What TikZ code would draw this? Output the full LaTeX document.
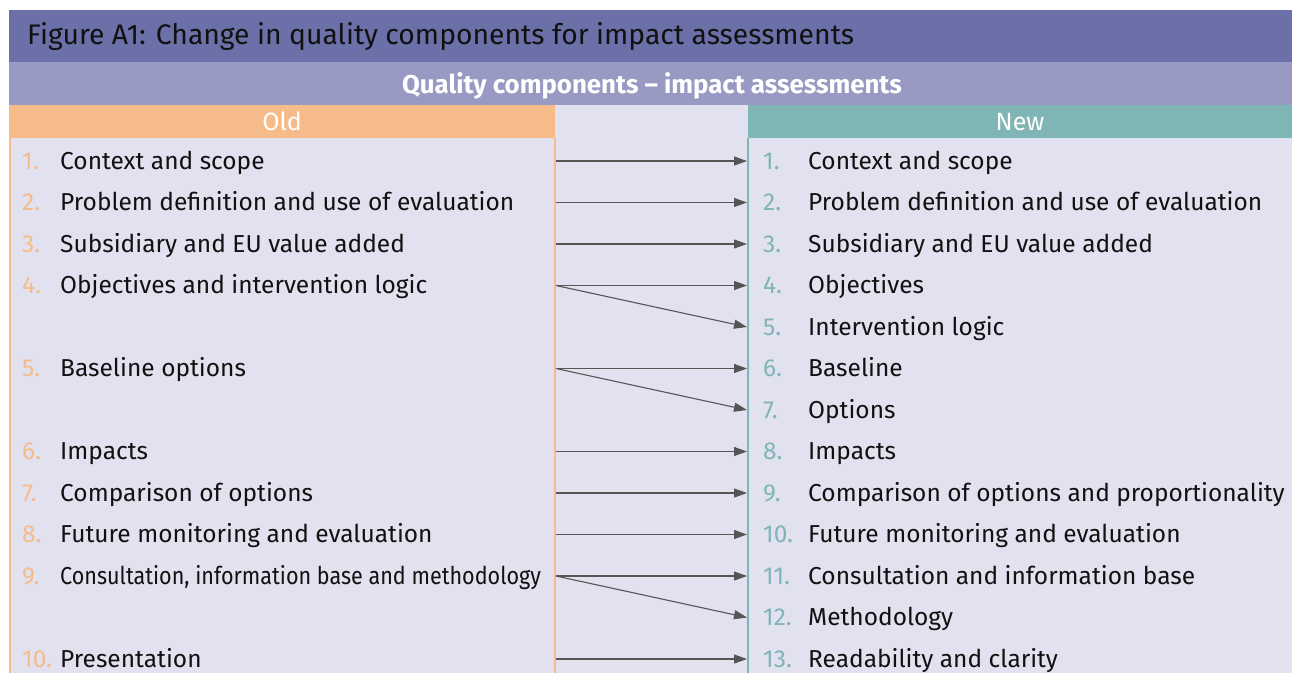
\documentclass[tikz,border=0pt]{standalone}
\usepackage{fontspec}
\setmainfont{Fira Sans}
\usetikzlibrary{arrows.meta}
\definecolor{titlebg}{HTML}{6B71A8}
\definecolor{subbg}{HTML}{999AC4}
\definecolor{oldc}{HTML}{F5BC8A}
\definecolor{newc}{HTML}{7FB5B4}
\definecolor{bodybg}{HTML}{E2E1F0}
\definecolor{arrc}{HTML}{555555}
\definecolor{txt}{HTML}{111111}
\tikzset{
  itemtext/.style={anchor=base west, inner sep=0pt, text=txt, font=\fontsize{24.5}{28}\selectfont},
  oldnum/.style={anchor=base west, inner sep=0pt, text=oldc, font=\fontsize{24.5}{28}\selectfont},
  newnum/.style={anchor=base west, inner sep=0pt, text=newc, font=\fontsize{24.5}{28}\selectfont},
  link/.style={draw=arrc, line width=1.1pt, -{Triangle[length=13pt,width=9pt]}},
  headtext/.style={text=white, inner sep=0pt, font=\fontsize{25}{28}\selectfont},
}
\begin{document}
\begin{tikzpicture}[x=1pt,y=-1pt]
\useasboundingbox (0,0) rectangle (1292,673);
\fill[white] (0,0) rectangle (1292,673);
\fill[titlebg] (9,10) rectangle (1292,62);
\fill[subbg] (9,62) rectangle (1292,105);
\fill[bodybg] (9,105) rectangle (1292,673);
\fill[oldc] (9,105) rectangle (555,138);
\fill[newc] (748,105) rectangle (1292,138);
\draw[oldc, line width=1.2pt] (10,138) -- (10,673) (555,138) -- (555,673);
\draw[newc, line width=1.2pt] (748,138) -- (748,673);
\node[anchor=base west, inner sep=0pt, text=txt, font=\fontsize{28.3}{32}\selectfont] (title) at (27,44) {Figure A1: Change in quality components for impact assessments};
\node[headtext, font=\fontsize{25.8}{30}\bfseries\selectfont, anchor=base] (sub) at (652,93) {Quality components -- impact assessments};
\node[headtext, anchor=base] (oldh) at (282,130) {Old};
\node[headtext, anchor=base] (newh) at (1020,130) {New};
% left items
\foreach \k/\r/\t in {1/1/Context and scope, 2/2/Problem definition and use of evaluation, 3/3/Subsidiary and EU value added, 4/4/Objectives and intervention logic, 5/6/Baseline options, 6/8/Impacts, 7/9/Comparison of options, 8/10/Future monitoring and evaluation, 10/13/Presentation}{
  \node[oldnum] (ln\k) at (22,{169+(\r-1)*41.5}) {\k.};
  \node[itemtext] (l\k) at (60,{169+(\r-1)*41.5}) {\t};
}
\node[oldnum] (ln9) at (22,{169+10*41.5}) {9.};
\node[itemtext] (l9) at (60,{169+10*41.5}) {\scalebox{0.88}[1]{Consultation, information base and methodology}};
% right items
\foreach \k/\t in {1/Context and scope, 2/Problem definition and use of evaluation, 3/Subsidiary and EU value added, 4/Objectives, 5/Intervention logic, 6/Baseline, 7/Options, 8/Impacts, 9/Comparison of options and proportionality, 10/Future monitoring and evaluation, 11/Consultation and information base, 12/Methodology, 13/Readability and clarity}{
  \node[newnum] (rn\k) at (763,{169+(\k-1)*41.5}) {\k.};
  \node[itemtext] (r\k) at (808,{169+(\k-1)*41.5}) {\t};
}
% connector ends
\foreach \r in {1,...,13}{
  \coordinate (lo\r) at (556,{161+(\r-1)*41.5});
  \coordinate (ri\r) at (747,{161+(\r-1)*41.5});
}
\draw[link] (lo1) -- (ri1);
\draw[link] (lo2) -- (ri2);
\draw[link] (lo3) -- (ri3);
\draw[link] (lo4) -- (ri4);
\draw[link] (lo4) -- (ri5);
\draw[link] (lo6) -- (ri6);
\draw[link] (lo6) -- (ri7);
\draw[link] (lo8) -- (ri8);
\draw[link] (lo9) -- (ri9);
\draw[link] (lo10) -- (ri10);
\draw[link] (lo11) -- (ri11);
\draw[link] (lo11) -- (ri12);
\draw[link] (lo13) -- (ri13);
\end{tikzpicture}
\end{document}
